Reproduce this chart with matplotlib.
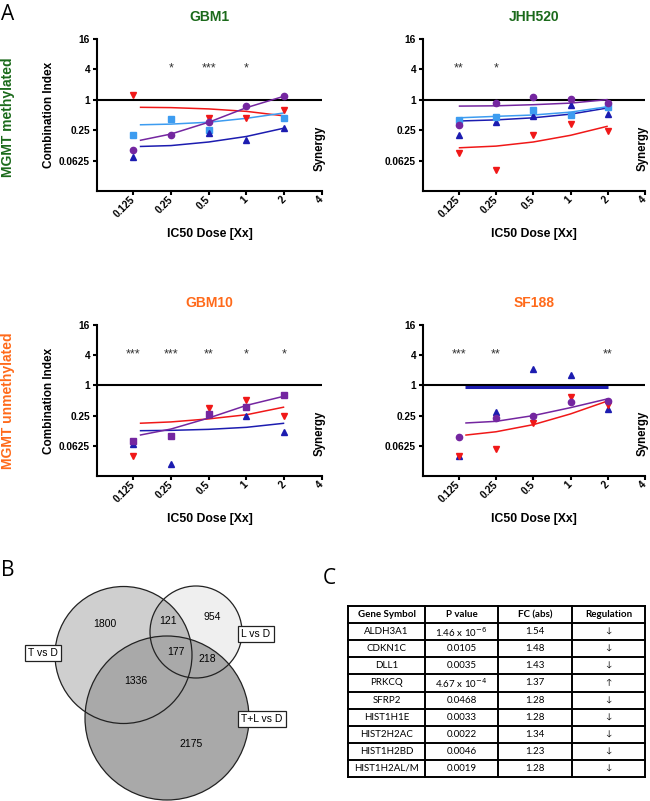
import numpy as np
import matplotlib
matplotlib.use('Agg')
import matplotlib.pyplot as plt
from matplotlib.patches import Circle

plt.rcParams['font.family'] = ['Liberation Sans', 'DejaVu Sans']

# ---- panel A data (combination index values) ----
doses = [0.125, 0.25, 0.5, 1, 2]
fit_doses = [0.141, 0.25, 0.5, 1, 2]
fit_doses_jhh = [0.125, 0.25, 0.5, 1, 2]
nan = np.nan

gbm1_red = [1.27, nan, 0.44, 0.44, 0.64]
gbm1_red_fit = [0.71, 0.70, 0.66, 0.59, 0.48]
gbm1_lblue = [0.20, 0.41, 0.25, nan, 0.44]
gbm1_lblue_fit = [0.32, 0.33, 0.36, 0.43, 0.55]
gbm1_purple = [0.10, 0.20, 0.36, 0.76, 1.18]
gbm1_purple_fit = [0.157, 0.21, 0.36, 0.70, 1.18]
gbm1_dblue = [0.073, nan, 0.22, 0.157, 0.275]
gbm1_dblue_fit = [0.119, 0.124, 0.146, 0.188, 0.275]
gbm1_stars = ['', '*', '***', '*', '']

jhh_purple = [0.31, 0.88, 1.15, 1.06, 0.88]
jhh_purple_fit = [0.75, 0.76, 0.80, 0.86, 1.01]
jhh_lblue = [0.39, 0.46, 0.64, 0.50, 0.73]
jhh_lblue_fit = [0.44, 0.47, 0.50, 0.57, 0.73]
jhh_dblue = [0.20, 0.36, 0.48, 0.78, 0.53]
jhh_dblue_fit = [0.38, 0.40, 0.44, 0.52, 0.69]
jhh_red = [0.088, 0.040, 0.20, 0.33, 0.24]
jhh_red_fit = [0.112, 0.121, 0.146, 0.198, 0.30]
jhh_stars = ['**', '*', '', '', '']

gbm10_purple = [0.079, 0.097, 0.27, 0.37, 0.63]
gbm10_purple_fit = [0.102, 0.135, 0.224, 0.40, 0.61]
gbm10_red = [0.039, nan, 0.35, 0.52, 0.25]
gbm10_red_fit = [0.176, 0.187, 0.215, 0.26, 0.37]
gbm10_dblue = [0.068, 0.027, 0.27, 0.24, 0.116]
gbm10_dblue_fit = [0.125, 0.127, 0.133, 0.146, 0.176]
gbm10_stars = ['***', '***', '**', '*', '*']

sf_dblue = [0.039, 0.30, 2.16, 1.59, 0.34]
sf_dblue_fit = [0.95, 0.95, 0.95, 0.95, 0.95]
sf_purple = [0.092, 0.22, 0.25, 0.47, 0.50]
sf_purple_fit = [0.178, 0.192, 0.25, 0.36, 0.54]
sf_red = [0.039, 0.054, 0.176, 0.58, 0.40]
sf_red_fit = [0.102, 0.119, 0.165, 0.27, 0.49]
sf_stars = ['***', '**', '', '', '**']

xticks = [0.125, 0.25, 0.5, 1, 2, 4]
xtick_labels = ['0.125', '0.25', '0.5', '1', '2', '4']
yticks = [0.0625, 0.25, 1, 4, 16]
ytick_labels = ['0.0625', '0.25', '1', '4', '16']

# ---- panel B data ----
venn_counts = {'T': 1800, 'L': 954, 'TL': 121, 'TLC': 177, 'LC': 218, 'TC': 1336, 'C': 2175}
venn_names = ['T vs D', 'L vs D', 'T+L vs D']

# ---- panel C data ----
genes = ['ALDH3A1', 'CDKN1C', 'DLL1', 'PRKCQ', 'SFRP2', 'HIST1H1E', 'HIST2H2AC', 'HIST1H2BD', 'HIST1H2AL/M']
pvals = ['1.46 x 10$^{-6}$', '0.0105', '0.0035', '4.67 x 10$^{-4}$', '0.0468', '0.0033', '0.0022', '0.0046', '0.0019']
fcs = ['1.54', '1.48', '1.43', '1.37', '1.28', '1.28', '1.34', '1.23', '1.28']
regulation = ['↓', '↓', '↓', '↑', '↓', '↓', '↓', '↓', '↓']
header = ['Gene Symbol', 'P value', 'FC (abs)', 'Regulation']

RED = '#f01818'
LBLUE = '#3d9cf0'
PURPLE = '#7426a0'
DBLUE = '#1c1cb0'
GREEN = '#1b6a1b'
ORANGE = '#ff6a1a'

W, H = 650, 801
fig = plt.figure(figsize=(6.5, 8.01), dpi=100)


def px_axes(x0, y0, x1, y1):
    return fig.add_axes([x0 / W, 1 - y1 / H, (x1 - x0) / W, (y1 - y0) / H])


def ci_panel(ax, title, tcolor, series, stars, fx):
    ax.set_xscale('log', base=2)
    ax.set_yscale('log', base=2)
    ax.set_xlim(2 ** -3.96, 4)
    ax.set_ylim(2 ** -6, 16)
    ax.axhline(1, color='black', lw=1.5, zorder=1)
    for marker, color, pts, fit, lw in series:
        ax.plot(fx, fit, color=color, lw=lw, zorder=2, solid_capstyle='butt')
        ax.plot(doses, pts, ls='none', marker=marker, color=color, ms=4.5, zorder=3)
    for d, s in zip(doses, stars):
        if s:
            ax.text(d, 4.1, s, ha='center', va='center', fontsize=9, color='#333333')
    ax.set_xticks(xticks)
    ax.set_xticklabels(xtick_labels, rotation=45, ha='right', va='center', rotation_mode='anchor')
    ax.set_yticks(yticks)
    ax.set_yticklabels(ytick_labels)
    ax.minorticks_off()
    ax.tick_params(direction='out', length=3, width=1.5, labelsize=7.3, pad=2)
    for lab in ax.get_xticklabels() + ax.get_yticklabels():
        lab.set_fontweight('bold')
    ax.spines['top'].set_visible(False)
    ax.spines['right'].set_visible(False)
    ax.spines['left'].set_linewidth(1.5)
    ax.spines['bottom'].set_linewidth(1.5)
    ax.patch.set_alpha(0)
    ax.set_title(title, color=tcolor, fontsize=10, fontweight='bold', pad=13)
    ax.set_xlabel('IC50 Dose [Xx]', fontsize=8.8, fontweight='bold', labelpad=6)
    ax.text(0.99, 0.28, 'Synergy', transform=ax.transAxes, rotation=90, ha='center',
            va='center', fontsize=8.3, fontweight='bold')


ax1 = px_axes(97, 39, 322, 191)
ci_panel(ax1, 'GBM1', GREEN, [
    ('v', RED, gbm1_red, gbm1_red_fit, 1.1),
    ('s', LBLUE, gbm1_lblue, gbm1_lblue_fit, 1.1),
    ('o', PURPLE, gbm1_purple, gbm1_purple_fit, 1.1),
    ('^', DBLUE, gbm1_dblue, gbm1_dblue_fit, 1.1)], gbm1_stars, fit_doses)

ax2 = px_axes(423, 39, 645, 191)
ci_panel(ax2, 'JHH520', GREEN, [
    ('v', RED, jhh_red, jhh_red_fit, 1.1),
    ('^', DBLUE, jhh_dblue, jhh_dblue_fit, 1.1),
    ('s', LBLUE, jhh_lblue, jhh_lblue_fit, 1.1),
    ('o', PURPLE, jhh_purple, jhh_purple_fit, 1.1)], jhh_stars, fit_doses_jhh)

ax3 = px_axes(97, 325, 322, 476)
ci_panel(ax3, 'GBM10', ORANGE, [
    ('v', RED, gbm10_red, gbm10_red_fit, 1.1),
    ('^', DBLUE, gbm10_dblue, gbm10_dblue_fit, 1.1),
    ('s', PURPLE, gbm10_purple, gbm10_purple_fit, 1.1)], gbm10_stars, fit_doses)

ax4 = px_axes(423, 325, 645, 476)
ci_panel(ax4, 'SF188', ORANGE, [
    ('^', DBLUE, sf_dblue, sf_dblue_fit, 2.2),
    ('v', RED, sf_red, sf_red_fit, 1.1),
    ('o', PURPLE, sf_purple, sf_purple_fit, 1.1)], sf_stars, fit_doses)

for ax in (ax1, ax3):
    ax.set_ylabel('Combination Index', fontsize=8.5, fontweight='bold', labelpad=3)

fig.text(8 / W, 1 - 117 / H, 'MGMT methylated', rotation=90, color=GREEN,
         fontsize=10, fontweight='bold', ha='center', va='center')
fig.text(8 / W, 1 - 401 / H, 'MGMT unmethylated', rotation=90, color=ORANGE,
         fontsize=10, fontweight='bold', ha='center', va='center')

# overlay in pixel coordinates for panels B and C
ov = fig.add_axes([0, 0, 1, 1])
ov.set_xlim(0, W)
ov.set_ylim(H, 0)
ov.axis('off')
ov.patch.set_alpha(0)

for lab, (x, y) in zip(['A', 'B', 'C'], [(8, 14), (8, 571), (329, 578)]):
    ov.text(x, y, lab, fontsize=15, ha='center', va='center', family=['Open Sans', 'DejaVu Sans'])

# Venn diagram
cT = ((123.5, 655), 68.5)
cL = ((196, 632), 46)
cC = ((167, 718), 82)
ov.add_patch(Circle(*cT, fc='#cfcfcf', ec='none'))
ov.add_patch(Circle(*cL, fc='#efefef', ec='none'))
inter = Circle(*cL, fc='#bdbdbd', ec='none')
ov.add_patch(inter)
clip = Circle(*cT, transform=ov.transData)
inter.set_clip_path(clip)
ov.add_patch(Circle(*cC, fc='#a9a9a9', ec='none'))
for c in (cT, cL, cC):
    ov.add_patch(Circle(*c, fc='none', ec='#222222', lw=0.9))

venn_pos = {'T': (105, 624), 'L': (212, 617), 'TL': (168, 621), 'TLC': (176, 652),
            'LC': (207, 659), 'TC': (136, 681), 'C': (191, 744)}
for k, v in venn_counts.items():
    ov.text(*venn_pos[k], str(v), ha='center', va='center', fontsize=7.5)
for name, (x, y) in zip(venn_names, [(43, 653), (256, 634), (262, 719)]):
    ov.text(x, y, name, ha='center', va='center', fontsize=7.5,
            bbox=dict(boxstyle='square,pad=0.3', fc='white', ec='#222222', lw=0.9))

# Table
col_edges = [348, 425, 498, 572, 645]
row_top = 606
row_h = 17.1
nrows = len(genes) + 1
for i in range(nrows + 1):
    ov.plot([col_edges[0], col_edges[-1]], [row_top + i * row_h] * 2, color='black', lw=1.4)
for x in col_edges:
    ov.plot([x, x], [row_top, row_top + nrows * row_h], color='black', lw=1.4)
tfont = ['Lato', 'DejaVu Sans']
for j, h in enumerate(header):
    xc = (col_edges[j] + col_edges[j + 1]) / 2
    ov.text(xc, row_top + row_h / 2, h, ha='center', va='center', fontsize=7,
            fontweight='bold', family=tfont)
for i, row in enumerate(zip(genes, pvals, fcs, regulation)):
    yc = row_top + (i + 1.5) * row_h
    for j, val in enumerate(row):
        xc = (col_edges[j] + col_edges[j + 1]) / 2
        fs = 6 if j == 3 else 7
        ov.text(xc, yc, val, ha='center', va='center', fontsize=fs, family=tfont)

fig.savefig('out.png', dpi=100)
